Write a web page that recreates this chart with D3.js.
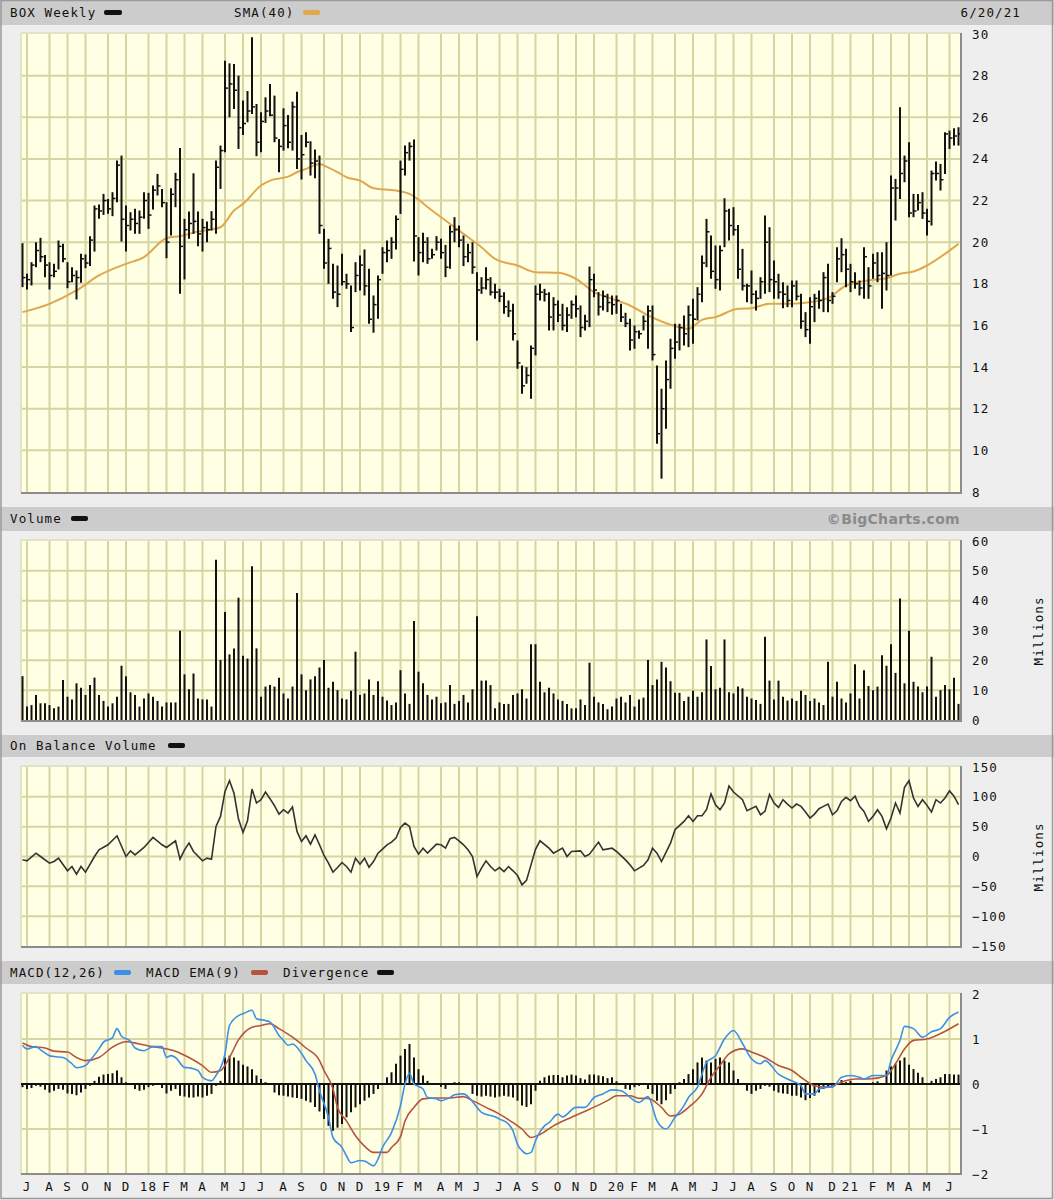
<!DOCTYPE html>
<html><head><meta charset="utf-8">
<script src="https://cdn.jsdelivr.net/npm/d3@7"></script>
<style>
body{margin:0;background:#fff}
svg{display:block}
text{font-family:"DejaVu Sans Mono",monospace;font-size:12.5px;letter-spacing:1.1px;fill:#111}
</style></head>
<body><svg id="c" width="1054" height="1200"></svg>
<script>
// ---------- DATA (weekly bars, Sunday-dated, 6/25/17 .. 6/20/21) ----------
const high = [
19.95,18.48,19.04,20.00,20.21,19.39,19.04,18.96,20.08,19.92,
19.04,18.80,18.64,19.44,19.41,20.29,21.76,21.81,22.32,22.08,
22.40,23.92,24.16,21.76,21.44,21.60,21.52,22.40,22.37,22.72,
23.28,22.56,21.92,22.59,23.33,24.53,21.12,21.47,23.31,21.47,
21.12,20.99,21.49,23.92,24.64,28.72,28.59,28.56,28.00,26.80,
27.26,29.84,26.64,26.24,26.96,27.60,27.04,24.96,26.43,26.11,
26.75,27.23,25.15,25.28,24.85,24.45,24.16,20.64,20.16,18.96,
18.88,19.44,18.48,17.92,19.04,19.36,19.65,18.72,17.44,18.40,
19.76,20.08,20.24,21.28,23.92,24.64,24.80,24.93,20.24,20.45,
20.24,19.68,20.29,20.16,19.87,20.80,21.20,20.80,20.32,19.92,
20.00,18.56,18.32,18.80,18.32,18.00,17.76,17.60,17.20,17.04,
15.28,14.08,14.00,15.04,17.92,18.00,17.76,17.60,17.36,17.20,
17.04,16.88,17.20,17.44,16.96,16.51,18.83,18.48,17.60,17.68,
17.52,17.44,17.44,17.04,16.61,16.32,16.00,15.76,16.48,16.96,
16.96,14.08,12.96,14.32,15.36,16.08,16.08,16.48,16.96,17.28,
17.84,19.36,21.12,20.32,19.84,19.84,22.11,21.60,21.68,20.83,
19.68,18.00,18.64,17.68,18.32,21.28,20.72,19.12,18.48,18.08,
17.92,18.16,18.16,17.52,16.64,17.36,17.52,17.68,18.56,18.96,
17.60,19.76,20.19,19.68,18.96,18.56,18.16,19.76,18.80,19.44,
19.52,19.52,20.00,23.20,23.04,26.48,24.16,24.80,22.32,22.32,
22.40,21.60,23.44,23.87,23.76,25.28,25.36,25.47,25.52];
const low = [
17.84,17.73,17.92,18.80,19.04,18.32,17.73,18.32,18.69,19.04,
17.79,18.08,17.25,18.05,18.75,18.85,19.55,21.12,21.31,21.36,
21.25,21.92,20.03,19.55,20.56,20.40,20.40,21.12,20.64,21.57,
22.24,21.68,19.23,20.32,21.68,17.52,18.21,20.16,20.40,19.81,
19.55,20.00,20.56,20.40,22.56,24.32,26.00,26.40,24.48,25.15,
25.76,26.16,24.13,24.32,25.73,26.05,24.80,23.36,24.40,24.51,
24.40,23.52,23.01,24.56,23.20,23.07,20.40,18.72,18.00,17.28,
16.88,17.92,17.76,15.68,17.60,17.68,17.44,16.08,15.65,16.32,
18.48,19.04,19.20,19.65,21.36,23.20,23.92,19.07,18.40,19.04,
18.96,19.20,19.60,19.20,18.32,18.72,20.00,19.76,18.85,19.04,
18.48,15.28,17.52,17.73,17.44,17.28,17.12,16.56,16.40,15.28,
13.92,12.72,13.20,12.48,14.56,17.20,17.15,15.76,15.76,16.16,
15.76,15.68,16.32,16.40,15.44,15.76,15.92,17.36,16.48,16.72,
16.64,16.51,16.56,16.16,15.92,14.80,14.88,15.36,15.76,14.88,
14.32,10.32,8.64,11.04,12.96,14.40,14.80,15.04,14.96,15.12,
16.24,17.12,18.80,18.24,17.76,17.68,19.76,20.08,20.32,18.24,
17.68,17.12,17.04,16.72,17.28,17.52,17.60,17.28,17.28,16.83,
16.88,16.88,17.20,15.84,15.44,15.12,16.16,16.80,16.64,16.64,
17.04,18.08,18.56,17.84,17.60,17.76,17.44,17.28,17.28,18.24,
18.08,16.80,17.68,18.40,21.04,22.08,22.88,21.20,21.20,21.52,
21.12,20.32,20.80,22.96,22.48,23.28,24.48,24.64,24.64];
const close = [
18.30,18.20,18.90,19.60,19.30,18.90,18.40,18.60,19.80,19.20,
18.10,18.40,18.30,19.20,19.00,20.10,21.60,21.50,22.00,21.60,
22.10,23.70,21.10,20.80,21.10,20.90,21.20,22.00,21.30,22.50,
22.70,21.90,20.00,22.30,23.00,19.80,20.60,20.90,21.00,20.40,
20.70,20.60,21.10,23.60,24.40,27.40,27.60,27.30,25.50,25.70,
26.30,26.50,24.80,25.80,26.30,26.10,25.00,24.60,25.60,24.80,
26.50,24.00,24.20,24.80,23.80,23.90,20.80,19.00,19.70,17.60,
17.50,18.10,18.00,15.90,18.40,18.90,17.90,16.30,17.00,18.20,
19.50,19.60,20.00,21.10,23.50,24.30,24.60,20.30,19.50,20.00,
19.20,19.40,20.00,19.50,18.80,20.50,20.60,20.10,19.30,19.50,
18.80,17.70,17.80,18.20,17.60,17.60,17.40,16.90,16.70,15.60,
14.20,13.10,13.60,14.90,17.50,17.60,17.50,16.40,17.00,16.50,
16.00,16.50,17.00,16.80,15.90,16.20,18.20,17.70,16.90,17.40,
17.10,17.00,17.20,16.40,16.10,15.30,15.70,15.60,16.20,16.70,
14.60,10.80,12.00,13.40,14.90,15.20,15.90,15.60,16.50,16.30,
17.50,19.00,20.50,18.60,18.20,19.60,21.50,20.80,20.60,18.70,
17.90,17.90,17.50,17.30,18.10,20.00,18.20,18.10,17.60,17.50,
17.20,17.90,17.40,16.20,15.80,16.90,17.30,17.20,18.30,17.20,
17.40,19.20,19.40,18.70,18.10,18.00,17.80,19.30,17.90,19.00,
18.40,18.50,18.40,22.60,22.60,23.30,23.90,21.40,21.50,21.90,
21.40,21.00,23.30,23.30,23.00,25.20,25.00,25.10,25.20];
const smaWeek = [0,6,12,17,23,27,32,35,39,44,47,49,53,55,59,61,63,66,67,70,72,75,78,83,86,91,94,98,102,105,110,114,119,123,127,131,135,139,145,148,151,154,159,162,166,170,174,179,183,188,192,195,198,201,205,208];
const smaVal  = [16.64,17.04,17.68,18.4,18.96,19.28,20.19,20.29,20.51,20.72,21.52,21.84,22.72,22.96,23.15,23.36,23.52,23.76,23.68,23.36,23.12,22.96,22.59,22.48,22.32,21.52,21.04,20.4,19.76,19.2,18.88,18.56,18.53,18.24,17.6,17.28,16.96,16.48,15.97,15.84,16.27,16.4,16.8,16.83,17.04,17.04,17.09,17.31,17.92,18.16,18.27,18.48,18.59,18.88,19.44,19.92];
const volume = [
14.7,4.5,5.0,8.4,5.6,5.6,5.0,3.9,4.5,13.4,
7.8,6.9,12.3,10.8,8.4,11.7,14.2,8.4,6.4,4.5,
5.6,7.8,18.2,14.7,9.3,8.4,4.5,7.2,8.9,7.8,
6.4,4.5,5.9,5.9,5.9,29.9,15.3,10.3,15.6,7.2,
6.9,6.9,4.5,53.7,20.1,36.2,22.0,24.0,41.0,21.5,
20.6,51.5,24.0,7.8,11.2,11.7,11.2,14.2,8.9,7.2,
11.2,42.6,15.3,10.0,13.6,14.7,17.6,20.1,10.8,12.8,
10.0,7.2,6.9,9.8,22.9,8.4,8.9,13.6,8.4,13.0,
7.8,6.5,5.0,5.9,16.7,8.9,5.4,33.2,16.2,12.3,
8.4,6.9,7.8,5.6,5.9,11.7,5.4,6.4,8.4,5.9,
10.3,34.8,13.2,13.2,11.7,3.9,5.9,5.4,5.4,8.4,
8.9,10.3,7.2,25.4,25.4,12.8,9.3,10.8,8.9,6.9,
6.4,5.4,3.9,3.9,6.9,5.0,19.2,7.8,5.9,5.4,
3.6,4.5,7.2,7.8,5.9,8.4,4.5,6.9,7.5,20.1,
11.7,13.6,19.5,17.6,13.0,9.1,9.1,6.4,7.8,9.8,
7.8,9.3,27.0,18.1,10.3,10.8,27.0,9.3,8.9,11.2,
10.6,7.8,7.2,6.7,5.4,27.9,13.2,6.9,13.2,7.8,
6.5,7.2,6.4,9.8,8.4,6.4,7.2,5.9,5.0,19.5,
7.8,12.8,7.2,5.9,8.9,18.7,7.2,16.7,11.4,10.0,
11.2,21.7,18.2,25.4,15.8,40.7,12.3,29.9,12.8,11.2,
9.3,11.2,21.2,7.8,10.0,11.7,10.3,14.2,5.4];
const obvWeek = [0,1,3,4,6,7,8,10,11,12,13,14,16,17,19,21,23,24,25,27,29,31,32,34,35,36,37,38,40,41,42,43,44,45,46,47,48,49,50,51,52,53,54,55,56,57,58,59,60,61,62,63,64,65,66,67,68,69,70,71,72,73,74,75,76,77,78,79,80,81,82,83,84,85,86,87,88,89,90,92,93,94,95,96,97,98,99,100,101,102,103,104,105,106,107,108,109,110,111,112,113,114,115,117,118,120,121,122,124,125,126,128,129,131,132,134,135,136,138,139,140,141,142,144,145,147,148,149,150,151,152,153,154,155,156,157,158,160,161,163,164,165,166,167,168,169,170,171,172,173,174,175,176,177,178,179,180,181,182,183,184,185,186,187,188,189,190,191,192,193,194,195,196,197,198,199,200,201,202,203,204,205,206,207,208];
const obvVal = [-5.6,-7.3,5.6,0,-11.2,-8.4,-2.8,-24,-16.8,-29.7,-16.8,-26.3,0,11.2,19.6,34.7,0,9.5,2.8,15.1,31.9,19.6,15.1,26.3,-4.5,11.2,22.4,8.4,-7.3,-2.8,-4.5,50.4,67.2,109,127,106,62.7,40.3,59.9,113,89.6,95.2,108,96.9,85.1,71.1,78.4,72.8,82.9,42,25.2,34.7,20.7,36.4,19.6,1.7,-11.2,-26.3,-18.5,-10.1,-16.8,-26.3,-2.8,-12.9,-2.8,-17.9,-8.4,5.6,12.3,19.6,24.1,30.8,48.7,56,50.4,16.8,3.9,14,5.6,20.7,19.6,14,29.7,31.9,26.3,19.6,11.2,0,-33.6,-19.6,-7.3,-16.8,-24,-18.5,-25.2,-16.8,-24,-31.9,-47.6,-40,-14,12,26.3,14,5.6,14,0,8.4,9.5,0,3.9,24.1,11.2,14,8.4,-5.6,-14,-24,-15.1,-5.6,14,5.6,-8.4,22.4,44.8,58.8,68.3,58.8,68.3,68.3,78.4,105,86.8,78.4,89.6,118,108,95.2,76.7,84,70,75.6,104,89.6,82.3,95.2,87.9,81.2,87.9,84,74.5,64.4,71.1,80.1,84,87.9,70,76.7,92.4,99.1,93.5,101,84,75.6,58.8,67.2,78.4,67.2,46.5,64.4,89.6,72.8,116,127,98,84,95.2,85.7,74.5,95.2,89.6,98,110,101,86.8,90.7];
const macdWeek = [0,1,3,4,6,7,9,11,12,14,15,17,18,20,21,22,24,25,27,29,31,32,33,34,36,37,39,40,42,43,45,46,48,49,51,52,54,55,57,58,59,60,62,63,65,66,68,69,71,72,73,75,76,78,79,80,82,84,85,86,87,89,90,92,93,95,96,98,99,101,102,105,106,108,109,110,111,112,113,114,116,117,119,120,123,125,127,129,131,133,136,137,139,141,143,145,147,148,150,152,154,156,158,160,162,164,165,168,170,173,174,176,177,179,180,182,184,186,187,189,192,193,195,196,198,200,202,204,206,208];
const macdVal  = [0.86,0.78,0.83,0.76,0.63,0.61,0.59,0.45,0.36,0.41,0.52,0.78,0.93,1.03,1.23,1.06,0.95,0.80,0.74,0.83,0.83,0.59,0.63,0.59,0.37,0.36,0.30,0.15,0.07,0.19,0.67,1.30,1.52,1.56,1.64,1.45,1.41,1.38,1.08,0.97,0.86,0.89,0.68,0.52,0.22,-0.15,-0.74,-1.19,-1.41,-1.60,-1.75,-1.70,-1.71,-1.82,-1.67,-1.41,-1.08,-0.48,0,0.24,0,-0.11,-0.30,-0.33,-0.37,-0.30,-0.24,-0.22,-0.28,-0.52,-0.63,-0.73,-0.78,-0.89,-1.04,-1.34,-1.48,-1.55,-1.52,-1.26,-0.93,-0.86,-0.67,-0.73,-0.52,-0.52,-0.30,-0.22,-0.13,-0.15,-0.37,-0.41,-0.28,-0.82,-1.00,-0.74,-0.48,-0.30,-0.07,0.48,0.63,1.00,1.19,0.90,0.56,0.45,0.52,0.22,0.11,-0.04,-0.22,-0.22,-0.11,-0.07,-0.07,0.15,0.19,0.15,0.11,0.19,0.19,0.52,0.97,1.28,1.23,1.04,1.16,1.23,1.48,1.60];
const emaWeek = [0,2,5,7,10,12,14,17,20,23,26,29,31,34,37,40,42,44,46,48,51,53,55,57,60,63,66,67,69,70,72,74,76,78,81,82,84,85,87,89,92,95,98,100,103,106,109,111,113,115,118,122,126,130,132,135,137,139,142,144,146,148,151,153,155,157,160,162,165,168,171,173,176,178,180,182,185,188,192,194,196,198,201,204,208];
const emaVal  = [0.91,0.83,0.80,0.73,0.71,0.59,0.52,0.59,0.82,0.94,0.89,0.83,0.80,0.73,0.59,0.41,0.26,0.30,0.59,0.98,1.26,1.30,1.34,1.23,1.04,0.80,0.52,0.30,-0.11,-0.52,-0.82,-1.15,-1.38,-1.52,-1.52,-1.41,-1.17,-0.82,-0.52,-0.33,-0.31,-0.31,-0.28,-0.37,-0.52,-0.67,-0.86,-1.00,-1.19,-1.12,-0.93,-0.74,-0.56,-0.37,-0.26,-0.26,-0.32,-0.32,-0.52,-0.71,-0.67,-0.52,-0.22,0.15,0.41,0.67,0.78,0.71,0.59,0.41,0.30,0.15,-0.04,-0.07,-0.04,0.04,0.11,0.11,0.19,0.45,0.78,0.97,1.00,1.12,1.34];
const divergence = [
-0.07,-0.11,-0.09,-0.04,-0.06,-0.13,-0.19,-0.15,-0.11,-0.13,
-0.21,-0.22,-0.25,-0.19,-0.11,-0.04,0.07,0.16,0.21,0.22,
0.24,0.30,0.15,0.04,-0.01,-0.11,-0.15,-0.13,-0.07,-0.04,
-0.02,-0.09,-0.21,-0.15,-0.11,-0.26,-0.28,-0.30,-0.30,-0.28,
-0.30,-0.26,-0.22,-0.04,0.07,0.59,0.63,0.59,0.52,0.43,
0.39,0.33,0.19,0.11,0.04,0,-0.19,-0.25,-0.26,-0.28,
-0.30,-0.31,-0.33,-0.37,-0.41,-0.51,-0.61,-0.78,-0.93,-1.04,
-0.97,-0.89,-0.74,-0.63,-0.52,-0.45,-0.37,-0.30,-0.22,-0.11,
-0.01,0.15,0.26,0.45,0.63,0.78,0.89,0.59,0.33,0.19,
0.07,0,0,-0.06,-0.11,0,0.04,0.04,0,-0.01,
-0.22,-0.26,-0.28,-0.26,-0.28,-0.30,-0.28,-0.26,-0.28,-0.30,
-0.37,-0.48,-0.51,-0.45,-0.15,0.07,0.15,0.19,0.20,0.20,
0.15,0.19,0.21,0.19,0.13,0.10,0.21,0.21,0.19,0.17,
0.13,0.15,0.06,0.01,-0.11,-0.13,-0.07,-0.04,-0.01,-0.11,
-0.22,-0.37,-0.45,-0.36,-0.22,-0.11,0.04,0.11,0.22,0.33,
0.48,0.59,0.52,0.48,0.56,0.59,0.52,0.48,0.30,0.11,
-0.01,-0.15,-0.22,-0.15,-0.11,-0.04,-0.06,-0.15,-0.19,-0.21,
-0.22,-0.26,-0.26,-0.30,-0.36,-0.31,-0.26,-0.19,-0.11,-0.07,
-0.06,0,0.09,0.04,0.07,0,-0.01,-0.01,0,0.04,
0.06,0,0.30,0.39,0.45,0.52,0.59,0.43,0.33,0.25,
0.15,0,0.07,0.11,0.15,0.22,0.22,0.21,0.21];
const priceTicks = [8,10,12,14,16,18,20,22,24,26,28,30];
const volTicks = [0,10,20,30,40,50,60];
const obvTicks = [-150,-100,-50,0,50,100,150];
const macdTicks = [-2,-1,0,1,2];
const monthLetters = ["J","F","M","A","M","J","J","A","S","O","N","D"];

// ---------- LAYOUT ----------
const W = 1054, H = 1200, L = 21, R = 961;
const svg = d3.select("#c");
const dates = d3.timeSunday.range(new Date(2017,5,25), new Date(2021,5,21));
const x = d3.scaleTime().domain([dates[0], dates[dates.length-1]]).range([22.5, 958.5]);
const xi = i => x(dates[i]);
const monthLines = d3.timeMonth.range(new Date(2017,6,1), new Date(2021,6,1)).map(m => d3.timeSunday.ceil(m));

const GRID = "#d6d4a0", BG = "#ffffe3", PANEL = "#eeeeee", BAND = "#cccccc";

svg.append("rect").attr("width", W).attr("height", H).attr("fill", PANEL);

function header(y0, y1) {
  svg.append("rect").attr("x", 0).attr("y", y0).attr("width", W).attr("height", y1 - y0).attr("fill", BAND);
}
header(0, 25); header(507, 531); header(735, 757); header(961, 984);

function panel(top, bottom, y, hTicks, labels) {
  const g = svg.append("g");
  g.append("rect").attr("x", L).attr("y", top).attr("width", R - L).attr("height", bottom - top).attr("fill", BG);
  g.selectAll("line.v").data(monthLines).join("line")
    .attr("x1", d => x(d)).attr("x2", d => x(d)).attr("y1", top).attr("y2", bottom)
    .attr("stroke", GRID).attr("stroke-width", 2);
  g.selectAll("line.h").data(hTicks).join("line")
    .attr("x1", L).attr("x2", R).attr("y1", d => y(d)).attr("y2", d => y(d))
    .attr("stroke", GRID).attr("stroke-width", 2);
  g.append("line").attr("x1", L).attr("x2", R).attr("y1", top).attr("y2", top).attr("stroke", "#e4e2c4").attr("stroke-width", 2);
  g.append("line").attr("x1", L).attr("x2", L).attr("y1", top).attr("y2", bottom).attr("stroke", "#e4e2c4").attr("stroke-width", 2);
  g.selectAll("text.lab").data(labels).join("text")
    .attr("x", 972).attr("y", d => y(d) + 4.5).text(d => d < 0 ? "\u2212" + Math.abs(d) : d);
  return g;
}
function frame(top, bottom) {
  svg.append("path").attr("d", `M${L},${bottom}H${R}V${top}`).attr("fill", "none").attr("stroke", "#8c8c8c").attr("stroke-width", 2);
}

// Price panel
const yP = d3.scaleLinear().domain([8, 30]).range([492, 34]);
const gP = panel(33, 493, yP, [10,12,14,16,18,20,22,24,26,28], priceTicks);
gP.append("path").datum(smaWeek.map((w, k) => [xi(w), yP(smaVal[k])]))
  .attr("d", d3.line().curve(d3.curveMonotoneX)).attr("fill", "none").attr("stroke", "#e0a74f").attr("stroke-width", 2);
gP.selectAll("line.bar").data(high).join("line")
  .attr("x1", (d, i) => xi(i)).attr("x2", (d, i) => xi(i))
  .attr("y1", d => yP(d)).attr("y2", (d, i) => yP(low[i]))
  .attr("stroke", "#111").attr("stroke-width", 2);
gP.selectAll("line.cl").data(close).join("line")
  .attr("x1", (d, i) => xi(i)).attr("x2", (d, i) => xi(i) + 3)
  .attr("y1", d => yP(d)).attr("y2", d => yP(d))
  .attr("stroke", "#111").attr("stroke-width", 1.5);
frame(33, 493);

// Volume panel
const yV = d3.scaleLinear().domain([0, 60]).range([720, 541]);
const gV = panel(540, 721, yV, [10,20,30,40,50], volTicks);
gV.selectAll("line.vb").data(volume).join("line")
  .attr("x1", (d, i) => xi(i)).attr("x2", (d, i) => xi(i))
  .attr("y1", yV(0)).attr("y2", d => yV(d))
  .attr("stroke", "#111").attr("stroke-width", 2);
frame(540, 721);

// OBV panel
const yO = d3.scaleLinear().domain([-150, 150]).range([946, 767]);
const gO = panel(766, 947, yO, [-100,-50,0,50,100], obvTicks);
gO.append("path").datum(obvWeek.map((w, k) => [xi(w), yO(obvVal[k])]))
  .attr("d", d3.line()).attr("fill", "none").attr("stroke", "#333").attr("stroke-width", 1.6);
frame(766, 947);

// MACD panel
const yM = d3.scaleLinear().domain([-2, 2]).range([1174, 994]);
const gM = panel(993, 1174, yM, [-1, 1], macdTicks);
gM.selectAll("line.dv").data(divergence).join("line")
  .attr("x1", (d, i) => xi(i)).attr("x2", (d, i) => xi(i))
  .attr("y1", yM(0)).attr("y2", d => yM(d))
  .attr("stroke", "#111").attr("stroke-width", 2);
gM.append("line").attr("x1", L).attr("x2", R).attr("y1", yM(0)).attr("y2", yM(0)).attr("stroke", "#111").attr("stroke-width", 2);
gM.append("path").datum(emaWeek.map((w, k) => [xi(w), yM(emaVal[k])]))
  .attr("d", d3.line().curve(d3.curveMonotoneX)).attr("fill", "none").attr("stroke", "#b5533f").attr("stroke-width", 1.6);
gM.append("path").datum(macdWeek.map((w, k) => [xi(w), yM(macdVal[k])]))
  .attr("d", d3.line().curve(d3.curveMonotoneX)).attr("fill", "none").attr("stroke", "#3d8fe8").attr("stroke-width", 1.6);
frame(993, 1174);

// Month labels
svg.selectAll("text.m").data(monthLines).join("text")
  .attr("x", d => x(d)).attr("y", 1191).attr("text-anchor", "middle")
  .text(d => d.getMonth() === 0 ? String(d.getFullYear()).slice(2) : monthLetters[d.getMonth()]);

// Millions labels
[[1043, 631], [1043, 857]].forEach(([cx, cy]) => {
  svg.append("text").attr("transform", `translate(${cx},${cy}) rotate(-90)`).attr("text-anchor", "middle").text("Millions");
});

// Headers & legends
function legend(items, y) {
  items.forEach(it => {
    if (it.t) svg.append("text").attr("x", it.x).attr("y", y).text(it.t);
    if (it.sw) svg.append("rect").attr("x", it.sw[0]).attr("y", y - 7).attr("width", it.sw[1] - it.sw[0]).attr("height", 5).attr("rx", 2).attr("fill", it.c);
  });
}
legend([{t: "BOX Weekly", x: 10}, {sw: [104, 122], c: "#111"}, {t: "SMA(40)", x: 234}, {sw: [303, 320], c: "#e0a74f"}], 17);
svg.append("text").attr("x", 1021).attr("y", 17).attr("text-anchor", "end").text("6/20/21");
legend([{t: "Volume", x: 10}, {sw: [71, 88], c: "#111"}], 523);
svg.append("text").attr("x", 960).attr("y", 524).attr("text-anchor", "end")
  .style("font-family", "'DejaVu Sans',sans-serif").style("font-weight", "bold").style("font-size", "14px").style("letter-spacing", "0.3px").style("fill", "#8a8a8a").text("\u00a9BigCharts.com");
legend([{t: "On Balance Volume", x: 10}, {sw: [168, 185], c: "#111"}], 750);
legend([{t: "MACD(12,26)", x: 10}, {sw: [114, 131], c: "#3d8fe8"}, {t: "MACD EMA(9)", x: 146}, {sw: [251, 268], c: "#b5533f"}, {t: "Divergence", x: 283}, {sw: [377, 394], c: "#111"}], 977);

// outer frame
svg.append("rect").attr("x", 1).attr("y", 0.5).attr("width", W - 2.5).attr("height", H - 2).attr("fill", "none").attr("stroke", "#9a9a9a").attr("stroke-width", 1.5);
</script></body></html>
